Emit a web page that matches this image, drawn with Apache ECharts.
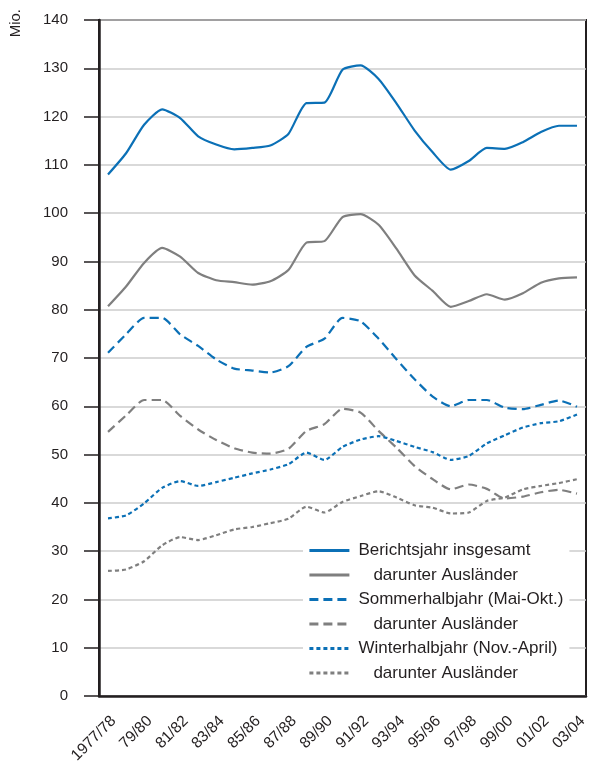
<!DOCTYPE html>
<html>
<head>
<meta charset="utf-8">
<script src="https://cdn.jsdelivr.net/npm/echarts@6/dist/echarts.min.js"></script>
<style>
	html, body { margin: 0; padding: 0; background: #fff; }
	#chartContainer { width: 590px; height: 765px; }
</style>
</head>
<body>
<div id="chartContainer"></div>
<script>
// Berichtsjahre
var jahre = ['1977/78','78/79','79/80','80/81','81/82','82/83','83/84','84/85','85/86','86/87',
	'87/88','88/89','89/90','90/91','91/92','92/93','93/94','94/95','95/96','96/97',
	'97/98','98/99','99/00','00/01','01/02','02/03','03/04'];

var yTicks = [0, 10, 20, 30, 40, 50, 60, 70, 80, 90, 100, 110, 120, 130, 140];

// Werte in Mio.
var berichtsjahrGesamt = [108.0, 112.4, 118.3, 121.5, 119.7, 115.9, 114.2, 113.2, 113.5, 114.0,
	116.4, 122.8, 122.9, 129.7, 130.6, 127.8, 122.7, 117.1, 112.6, 109.0,
	110.8, 113.5, 113.3, 114.7, 116.8, 118.1, 118.1];
var berichtsjahrAusl = [80.7, 84.8, 89.7, 92.8, 91.0, 87.6, 86.1, 85.7, 85.2, 85.9,
	88.2, 93.9, 94.2, 99.2, 99.8, 97.6, 92.6, 87.1, 83.9, 80.6,
	81.8, 83.2, 82.1, 83.4, 85.6, 86.5, 86.7];
var sommerGesamt = [71.1, 74.9, 78.3, 78.3, 74.9, 72.5, 69.7, 67.8, 67.4, 67.0,
	68.3, 72.3, 74.0, 78.3, 77.6, 74.0, 69.7, 65.6, 62.0, 60.0,
	61.3, 61.3, 59.7, 59.4, 60.3, 61.2, 59.9];
var sommerAusl = [54.7, 58.1, 61.3, 61.3, 58.0, 55.2, 53.0, 51.3, 50.4, 50.2,
	51.2, 54.9, 56.3, 59.5, 58.7, 54.9, 51.4, 47.6, 44.9, 42.8,
	43.8, 42.9, 40.9, 41.3, 42.2, 42.7, 41.9];
var winterGesamt = [36.8, 37.4, 39.9, 43.1, 44.5, 43.5, 44.3, 45.2, 46.1, 46.9,
	48.0, 50.4, 48.9, 51.6, 53.1, 53.8, 52.8, 51.6, 50.5, 48.9,
	49.7, 52.3, 54.0, 55.6, 56.5, 56.9, 58.3];
var winterAusl = [25.9, 26.2, 27.9, 31.2, 32.9, 32.3, 33.3, 34.5, 35.0, 35.8,
	36.7, 39.2, 38.0, 40.2, 41.4, 42.4, 41.1, 39.5, 39.0, 37.8,
	38.0, 40.4, 41.1, 42.8, 43.5, 44.1, 44.9];

var legendTexte = {
	'b1': 'Berichtsjahr insgesamt',
	'b2': 'darunter Ausländer',
	's1': 'Sommerhalbjahr (Mai-Okt.)',
	's2': 'darunter Ausländer',
	'w1': 'Winterhalbjahr (Nov.-April)',
	'w2': 'darunter Ausländer'
};

var touristChart = {
	blau : '#0b70b6',
	grau : '#7f7f7f',
	schrift : 'Liberation Sans, Arial, sans-serif',

	/**
	 * eine Linie bauen
	 */
	linie : function(name, data, color, type) {
		return {
			name: name,
			type: 'line',
			data: data,
			symbol: 'none',
			smooth: 0.2,
			lineStyle: { color: color, width: 2.2, type: type },
			itemStyle: { color: color }
		};
	},

	/**
	 * Diagramm anzeigen
	 */
	showChart : function() {
		var self = touristChart;
		var myChart = echarts.init(document.getElementById('chartContainer'));
		var option = {
			animation: false,
			backgroundColor: '#fff',
			textStyle: { fontFamily: self.schrift },
			graphic: [
				{
					type: 'text',
					left: 8,
					top: 9,
					rotation: Math.PI / 2,
					style: { text: 'Mio.', font: '15px ' + self.schrift, fill: '#231f20' }
				}
			],
			grid: {
				left: 99, right: 4, top: 20, bottom: 69,
				outerBoundsMode: 'none',
				show: true,
				borderColor: '#231f20',
				borderWidth: 2
			},
			legend: {
				orient: 'vertical',
				left: 303,
				top: 536,
				padding: [6, 6, 6, 5],
				backgroundColor: '#fff',
				itemWidth: 40,
				itemHeight: 14,
				itemGap: 7.5,
				itemStyle: { opacity: 0 },
				lineStyle: { width: 2.8 },
				data: ['b1', 'b2', 's1', 's2', 'w1', 'w2'],
				formatter: function(name) {
					if (name.charAt(1) == '2') {
						return '{ind|' + legendTexte[name] + '}';
					}
					return '{t|' + legendTexte[name] + '}';
				},
				textStyle: {
					fontSize: 17,
					color: '#231f20',
					rich: {
						t: { fontSize: 17, color: '#231f20', padding: [0, 0, 0, 4] },
						ind: { fontSize: 17, color: '#231f20', padding: [0, 0, 0, 19] }
					}
				}
			},
			xAxis: {
				type: 'category',
				data: jahre,
				boundaryGap: true,
				axisLine: { lineStyle: { color: '#231f20', width: 2.5 } },
				axisTick: {
					alignWithLabel: true,
					interval: 0,
					length: 15,
					lineStyle: { color: '#231f20', width: 1.5 }
				},
				axisLabel: {
					interval: 1,
					rotate: 45,
					margin: 17,
					verticalAlign: 'top',
					fontSize: 15.5,
					color: '#231f20'
				},
				splitLine: { show: false }
			},
			yAxis: {
				type: 'value',
				min: yTicks[0],
				max: yTicks[yTicks.length - 1],
				interval: 10,
				axisLine: { show: true, lineStyle: { color: '#231f20', width: 2.5 } },
				axisTick: { show: true, length: 15, lineStyle: { color: '#231f20', width: 1.5 } },
				axisLabel: { margin: 31, fontSize: 15, color: '#231f20' },
				splitLine: { lineStyle: { color: '#cccccc', width: 1.5 } }
			},
			series: [
				self.linie('b1', berichtsjahrGesamt, self.blau, 'solid'),
				self.linie('b2', berichtsjahrAusl, self.grau, 'solid'),
				self.linie('s1', sommerGesamt, self.blau, [9, 5]),
				self.linie('s2', sommerAusl, self.grau, [9, 5]),
				self.linie('w1', winterGesamt, self.blau, [4, 3]),
				self.linie('w2', winterAusl, self.grau, [4, 3])
			]
		};
		// Diagramm anzeigen
		myChart.setOption(option);
	}
};

touristChart.showChart();
</script>
</body>
</html>
